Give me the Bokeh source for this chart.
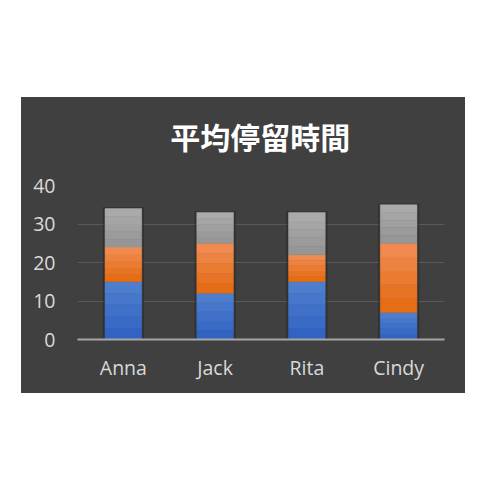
from bokeh.plotting import figure
from bokeh.models import ColumnDataSource, FactorRange, Range1d, Spacer, FixedTicker
from bokeh.core.properties import value
from bokeh.layouts import column, row
from bokeh.embed import file_html
from bokeh.resources import INLINE

# ---- data ----
names = ["Anna", "Jack", "Rita", "Cindy"]
seg_blue = [15, 12, 15, 7]
seg_orange = [9, 13, 7, 18]
seg_gray = [10, 8, 11, 10]
y_ticks = [0, 10, 20, 30, 40]
title_text = "平均停留時間"

# ---- styles ----
BG = "#404040"
seg_colors = [
    ("#2f60c0", "#5081d0"),   # blue bottom, top
    ("#e2690e", "#f28e56"),   # orange
    ("#949494", "#acacac"),   # gray
]
N_BANDS = 5


def hex2rgb(h):
    h = h.lstrip("#")
    return tuple(int(h[i:i + 2], 16) for i in (0, 2, 4))


def mix(c1, c2, t):
    a, b = hex2rgb(c1), hex2rgb(c2)
    return "#%02x%02x%02x" % tuple(round(a[i] + (b[i] - a[i]) * t) for i in range(3))


xs, bots, tops, cols = [], [], [], []
totals = []
for i, n in enumerate(names):
    base = 0
    for s, series in enumerate([seg_blue, seg_orange, seg_gray]):
        v = series[i]
        for k in range(N_BANDS):
            xs.append(n)
            bots.append(base + v * k / N_BANDS)
            tops.append(base + v * (k + 1) / N_BANDS)
            cols.append(mix(seg_colors[s][0], seg_colors[s][1], (k + 0.5) / N_BANDS))
        base += v
    totals.append(base)

src = ColumnDataSource(dict(x=xs, bottom=bots, top=tops, color=cols))
shadow_src = ColumnDataSource(dict(x=names, top=[t + 0.35 for t in totals]))

# ---- title strip ----
pt = figure(
    x_range=Range1d(0, 1), y_range=Range1d(0, 1),
    width=444, height=68, output_backend="svg", toolbar_location=None,
    x_axis_type=None, y_axis_type=None,
    min_border_left=0, min_border_right=0, min_border_top=0, min_border_bottom=0,
    background_fill_color=BG, border_fill_color=BG,
    styles={"background-color": BG},
)
pt.outline_line_color = None
pt.grid.visible = False
pt.text(x=[0.498], y=[0.44], text=[title_text],
        text_align="center", text_baseline="middle",
        text_color="#ffffff", text_font=value("Noto Sans CJK TC"),
        text_font_size="30px", text_font_style="bold")

# ---- chart ----
p = figure(
    x_range=FactorRange(*names), y_range=Range1d(0, 40),
    width=444, height=228, output_backend="svg", toolbar_location=None,
    min_border_left=56, min_border_right=21, min_border_top=20, min_border_bottom=54,
    background_fill_color=BG, border_fill_color=BG,
    styles={"background-color": BG},
)
p.outline_line_color = None

p.vbar(x="x", top="top", bottom=0, width=0.45, source=shadow_src,
       fill_color="#262626", fill_alpha=0.55, line_color=None)
p.vbar(x="x", top="top", bottom="bottom", width=0.40, source=src,
       fill_color="color", line_color="color", line_width=0.5)

p.yaxis.ticker = FixedTicker(ticks=y_ticks)
p.yaxis.axis_line_color = None
p.yaxis.major_tick_line_color = None
p.yaxis.minor_tick_line_color = None
p.yaxis.major_label_text_color = "#d9d9d9"
p.yaxis.major_label_text_font = "Open Sans"
p.yaxis.major_label_text_font_size = "19.5px"
p.yaxis.major_label_standoff = 16

p.xaxis.axis_line_color = "#a6a6a6"
p.xaxis.axis_line_width = 2
p.xaxis.major_tick_line_color = None
p.xaxis.minor_tick_line_color = None
p.xaxis.major_label_text_color = "#d9d9d9"
p.xaxis.major_label_text_font = "Open Sans"
p.xaxis.major_label_text_font_size = "19.5px"
p.xaxis.major_label_standoff = 8

p.xgrid.grid_line_color = None
p.ygrid.grid_line_color = "#595959"
p.ygrid.grid_line_width = 1

layout = column(Spacer(width=444, height=97),
                row(Spacer(width=21, height=296), column(pt, p)))
open("out.html", "w").write(file_html(layout, INLINE))
